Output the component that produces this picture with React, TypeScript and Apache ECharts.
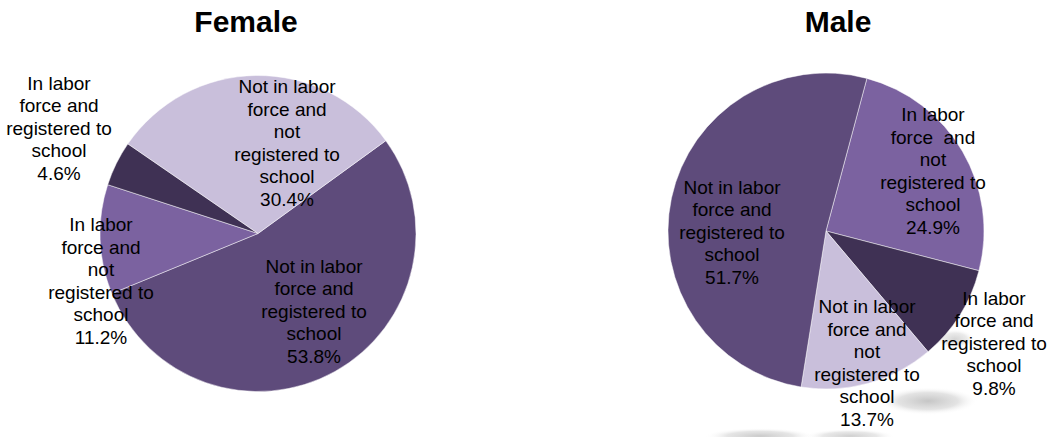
import React, { useEffect, useRef } from "react";
import * as echarts from "echarts";

// Categories (label text as wrapped in the source)
const catNotInReg = "Not in labor\nforce and\nregistered to\nschool";
const catInNotReg = "In labor\nforce and\nnot\nregistered to\nschool";
const catInNotRegMale = "In labor\nforce  and\nnot\nregistered to\nschool";
const catInReg = "In labor\nforce and\nregistered to\nschool";
const catNotNot = "Not in labor\nforce and\nnot\nregistered to\nschool";

// Female, clockwise from the start angle
const femaleNames = [catNotInReg, catInNotReg, catInReg, catNotNot];
const femaleValues = [53.8, 11.2, 4.6, 30.4];
const femaleColors = ["#5E4B7B", "#7B62A0", "#3F3154", "#C9BFDB"];

// Male, clockwise from the start angle
const maleNames = [catInNotRegMale, catInReg, catNotNot, catNotInReg];
const maleValues = [24.9, 9.8, 13.7, 51.7];
const maleColors = ["#7B62A0", "#3F3154", "#C9BFDB", "#5E4B7B"];

// Label layout (pixel anchors)
const femaleLabelPos = [
  [314, 311],
  [101, 281],
  [59, 128],
  [287, 143],
];
const maleLabelPos = [
  [933, 171],
  [994, 343],
  [867, 363],
  [732, 232],
];

const FONT = "'Liberation Sans', Arial, sans-serif";

function makeSeries(
  names: string[],
  values: number[],
  colors: string[],
  center: [number, number],
  startAngle: number,
  pos: number[][]
) {
  return {
    type: "pie",
    center,
    radius: 158,
    startAngle,
    clockwise: true,
    avoidLabelOverlap: false,
    silent: true,
    z: 3,
    itemStyle: { borderColor: "rgba(255,255,255,0.8)", borderWidth: 0.6 },
    label: {
      show: true,
      position: "inside",
      color: "#000",
      fontFamily: FONT,
      fontSize: 19,
      lineHeight: 22.5,
      align: "center",
      formatter: (p: any) => `${p.name}\n${p.value.toFixed(1)}%`,
    },
    labelLine: { show: false },
    labelLayout: (p: any) => ({
      x: pos[p.dataIndex][0],
      y: pos[p.dataIndex][1],
      align: "center",
      verticalAlign: "middle",
    }),
    data: names.map((n, i) => ({
      name: n,
      value: values[i],
      itemStyle: { color: colors[i] },
    })),
  };
}

function blob(cx: number, cy: number, rx: number, ry: number, alpha: number) {
  return {
    type: "ellipse",
    z: 0,
    silent: true,
    shape: { cx, cy, rx, ry },
    style: {
      fill: new echarts.graphic.RadialGradient(0.5, 0.5, 0.5, [
        { offset: 0, color: `rgba(150,150,150,${alpha})` },
        { offset: 0.6, color: `rgba(170,170,170,${alpha * 0.6})` },
        { offset: 1, color: "rgba(255,255,255,0)" },
      ]),
    },
  };
}

export default function App() {
  const ref = useRef<HTMLDivElement>(null);
  useEffect(() => {
    if (!ref.current) return;
    const chart = echarts.init(ref.current, undefined, { renderer: "svg" });
    chart.setOption({
      animation: false,
      backgroundColor: "#ffffff",
      title: [
        {
          text: "Female",
          left: 241,
          top: 1,
          textAlign: "center",
          textStyle: { fontFamily: FONT, fontSize: 30, fontWeight: "bold", color: "#000" },
        },
        {
          text: "Male",
          left: 833,
          top: 1,
          textAlign: "center",
          textStyle: { fontFamily: FONT, fontSize: 30, fontWeight: "bold", color: "#000" },
        },
      ],
      graphic: [
        blob(928, 401, 50, 14, 0.55),
        blob(760, 436, 55, 8, 0.5),
        blob(850, 436, 45, 7, 0.45),
        blob(955, 339, 20, 10, 0.4),
      ],
      series: [
        makeSeries(femaleNames, femaleValues, femaleColors, [258, 233.5], 36, femaleLabelPos),
        makeSeries(maleNames, maleValues, maleColors, [826, 231], 75, maleLabelPos),
      ],
    });
    return () => chart.dispose();
  }, []);
  return (
    <div
      ref={ref}
      style={{ position: "fixed", left: 0, top: 0, width: 1049, height: 437 }}
    />
  );
}
